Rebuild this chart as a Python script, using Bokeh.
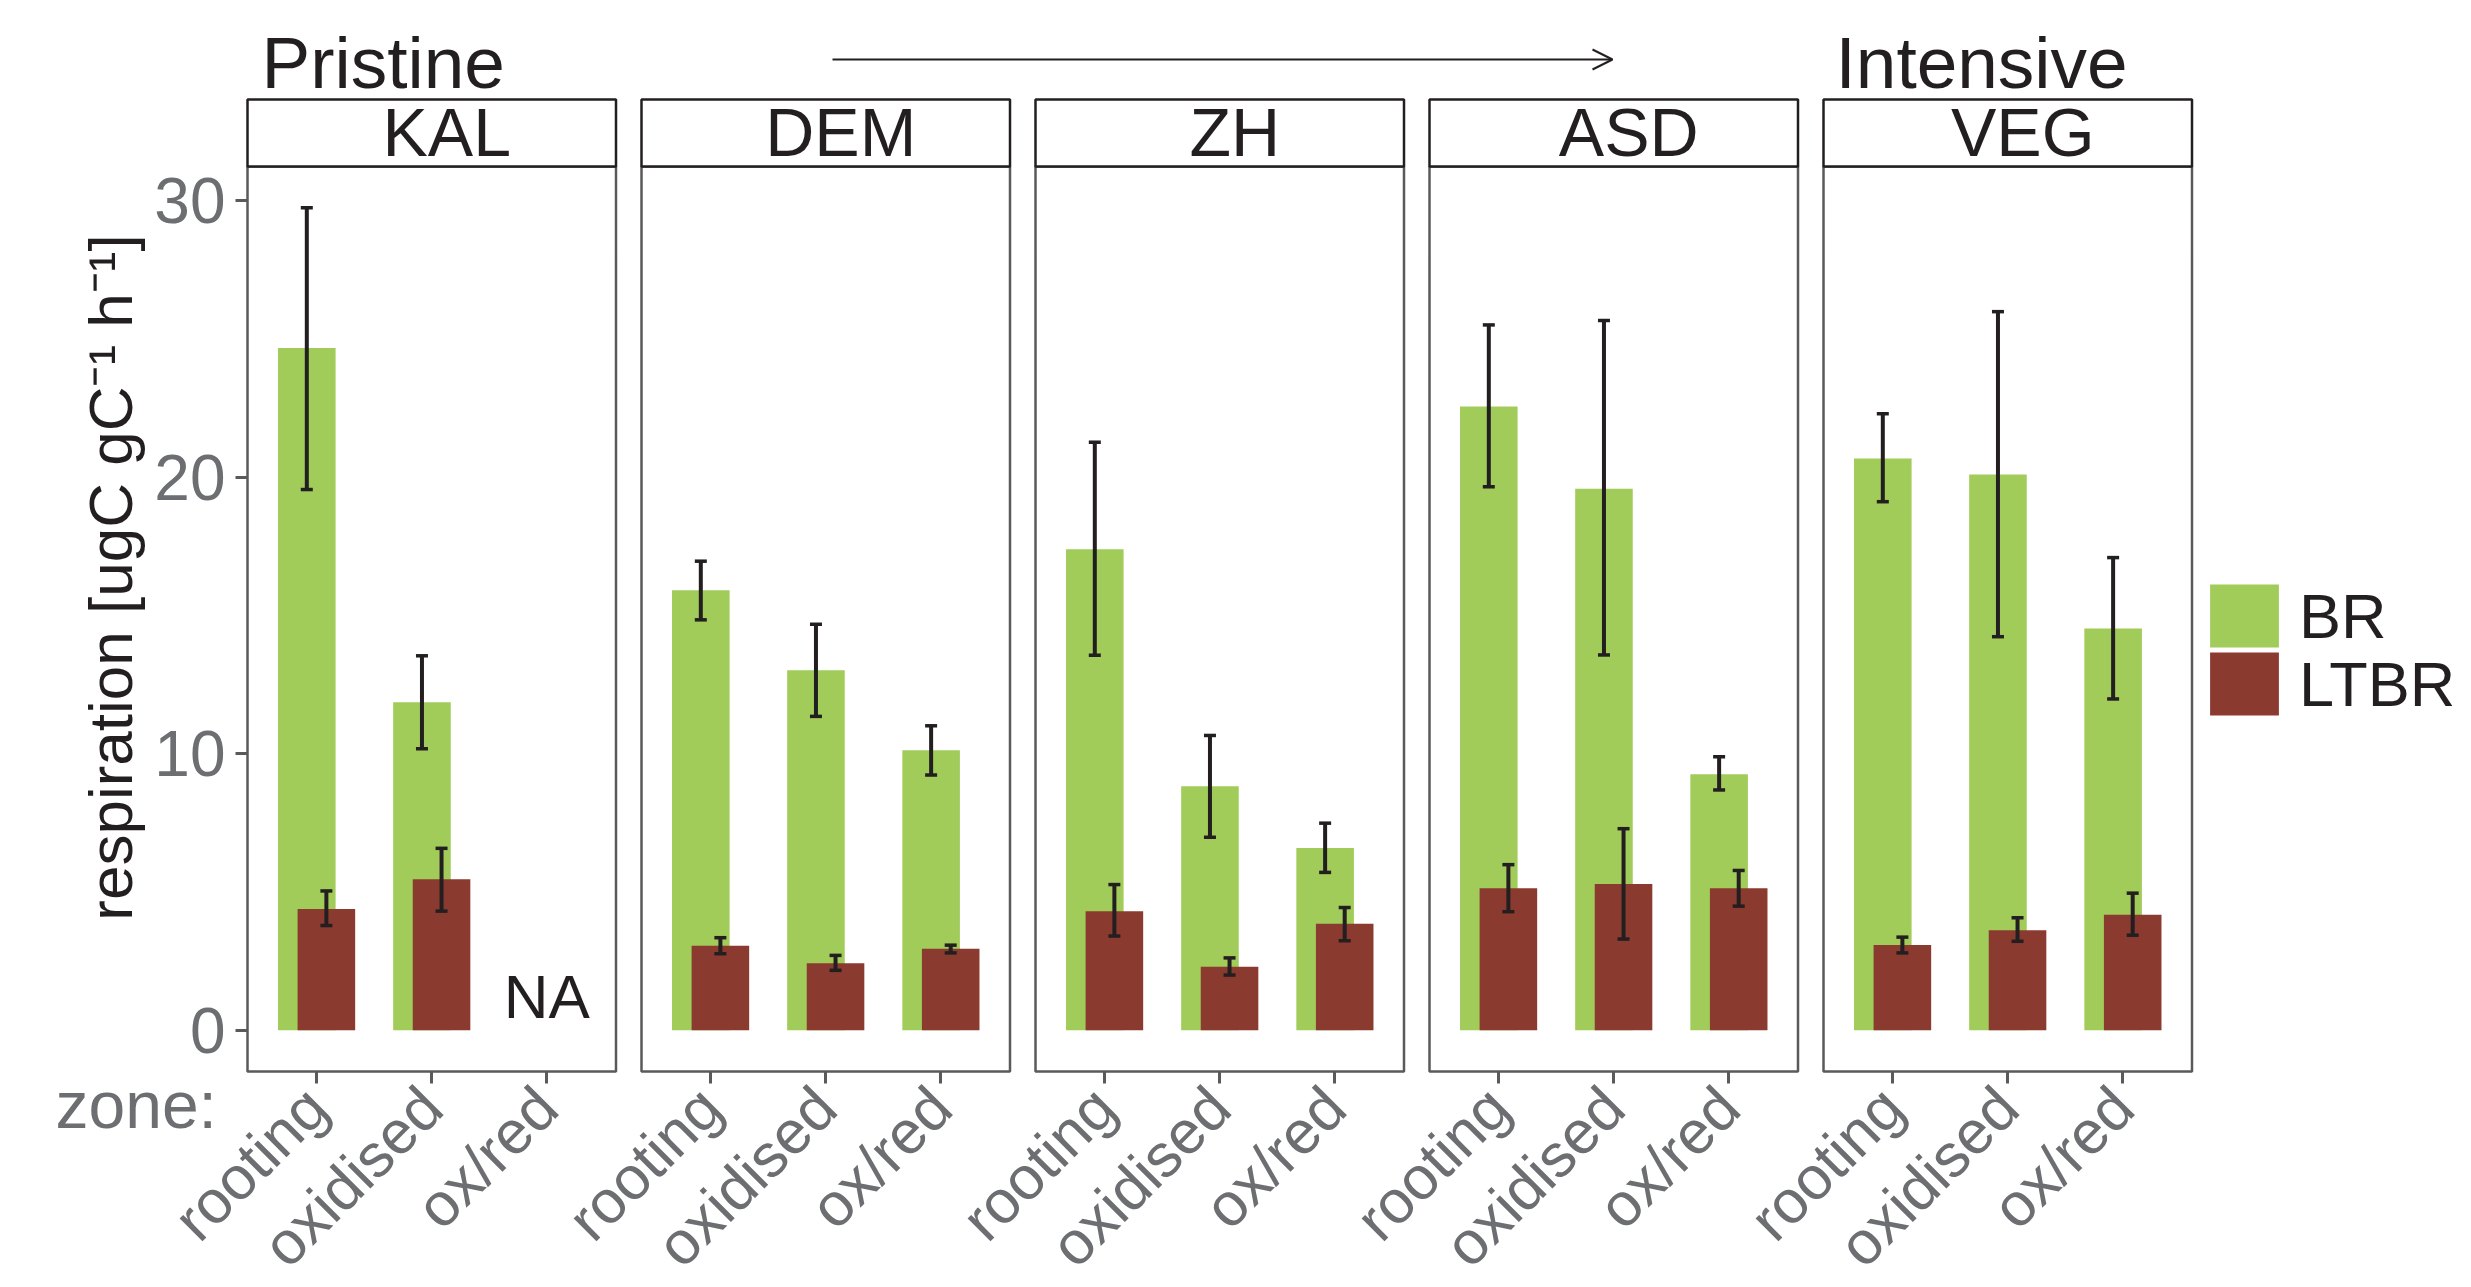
import math
from bokeh.plotting import figure
from bokeh.models import (ColumnDataSource, Whisker, TeeHead, Arrow, OpenHead,
                          FixedTicker, Legend, LegendItem, Range1d, LinearAxis,
                          CustomJSTickFormatter)
from bokeh.embed import file_html
from bokeh.resources import INLINE
from bokeh.core.properties import value

# ---------------- data ----------------
sites = ["KAL", "DEM", "ZH", "ASD", "VEG"]
zones = ["rooting", "oxidised", "ox/red"]
NA = float("nan")
# values listed site by site (KAL, DEM, ZH, ASD, VEG), zone by zone
br_mean = [24.67, 11.86, NA, 15.91, 13.02, 10.13, 17.39, 8.82, 6.59,
           22.55, 19.58, 9.26, 20.67, 20.09, 14.53]
br_lower = [19.55, 10.18, NA, 14.84, 11.35, 9.23, 13.56, 6.98, 5.71,
            19.65, 13.57, 8.69, 19.11, 14.23, 11.98]
br_upper = [29.74, 13.54, NA, 16.96, 14.68, 11.01, 21.26, 10.66, 7.49,
            25.50, 25.66, 9.89, 22.29, 25.98, 17.09]
ltbr_mean = [4.39, 5.46, NA, 3.06, 2.43, 2.95, 4.31, 2.30, 3.85,
             5.14, 5.29, 5.14, 3.09, 3.62, 4.18]
ltbr_lower = [3.79, 4.31, NA, 2.77, 2.17, 2.80, 3.41, 2.00, 3.24,
              4.29, 3.30, 4.49, 2.80, 3.22, 3.44]
ltbr_upper = [5.04, 6.58, NA, 3.35, 2.71, 3.08, 5.27, 2.62, 4.44,
              5.99, 7.29, 5.78, 3.37, 4.07, 4.96]
series_names = ["BR", "LTBR"]
y_ticks = [0, 10, 20, 30]
y_title = "respiration [ugC gC\u207b\u00b9 h\u207b\u00b9]"
gradient_left, gradient_right = "Pristine", "Intensive"
na_label = "NA"
zone_caption = "zone:"

# ---------------- style ----------------
GREEN = "#A1CC5A"
RED = "#8B3A2F"
INK = "#231F20"
GREY_TXT = "#6D6E71"
GREY_LINE = "#5A5A5A"
FONT_NAME = "Liberation Sans"
FONT = value(FONT_NAME)
BASE_SHIFT = 0.4   # empirical baseline correction (fraction of font size)

# ---------------- layout (canvas pixels) ----------------
W, H = 2471, 1287
PANEL_W, GAP = 368.5, 25.5
PANEL0_L = 247
STRIP_T, PANEL_T, PANEL_B = 99, 166, 1071
EXP = 0.6
nz = len(zones)
span = nz - 1 + 2 * EXP
ux = PANEL_W / span
pitch = span + GAP / ux
dmax = max(v for v in br_upper + ltbr_upper if v == v)
y0 = -0.05 * dmax
y1 = dmax + 0.05 * dmax
uy = (PANEL_B - PANEL_T) / (y1 - y0)
x_start = (1 - EXP) - PANEL0_L / ux
x_end = x_start + W / ux
y_start = y0 - (H - PANEL_B) / uy
y_end = y_start + H / uy


def X(cx):
    return x_start + cx / ux


def Y(cy):
    return y_start + (H - cy) / uy


def YB(baseline, size):
    return Y(baseline - BASE_SHIFT * size)


DODGE = 0.085
BAR_W = 0.5

p = figure(width=W, height=H, output_backend="svg", toolbar_location=None,
           x_range=Range1d(x_start, x_end), y_range=Range1d(y_start, y_end),
           x_axis_type=None, y_axis_type=None,
           min_border_left=0, min_border_right=0, min_border_top=0, min_border_bottom=0)
p.outline_line_color = None
p.xgrid.visible = False
p.ygrid.visible = False
p.background_fill_color = "white"

# panels & strips
pl = [i * pitch + 1 - EXP for i in range(len(sites))]
pr = [v + span for v in pl]
p.quad(left=pl, right=pr, bottom=[y0] * len(sites), top=[y1] * len(sites),
       fill_color=None, line_color=GREY_LINE, line_width=2.5)
strip_h = (PANEL_T - STRIP_T) / uy
p.quad(left=pl, right=pr, bottom=[y1] * len(sites), top=[y1 + strip_h] * len(sites),
       fill_color="white", line_color=INK, line_width=2.5)
p.text(x=[(a + b) / 2 + 15 / ux for a, b in zip(pl, pr)], y=[YB(159, 68)] * len(sites), text=sites,
       text_font=FONT, text_font_size="68px", text_color=INK,
       text_align="center", text_baseline="alphabetic")

# bars
centers, labels = [], []
bx, bt, bl, bu = [], [], [], []
lx, lt, ll, lu = [], [], [], []
na_x = []
for i in range(len(sites)):
    for j in range(nz):
        k = i * nz + j
        c = i * pitch + 1 + j
        centers.append(c)
        labels.append(zones[j])
        if br_mean[k] == br_mean[k]:
            bx.append(c - DODGE); bt.append(br_mean[k]); bl.append(br_lower[k]); bu.append(br_upper[k])
        if ltbr_mean[k] == ltbr_mean[k]:
            lx.append(c + DODGE); lt.append(ltbr_mean[k]); ll.append(ltbr_lower[k]); lu.append(ltbr_upper[k])
        if br_mean[k] != br_mean[k] and ltbr_mean[k] != ltbr_mean[k]:
            na_x.append(c)

src_b = ColumnDataSource(dict(x=bx, top=bt, lower=bl, upper=bu))
src_l = ColumnDataSource(dict(x=lx, top=lt, lower=ll, upper=lu))

r_b = p.vbar(x="x", top="top", bottom=0, width=BAR_W, source=src_b,
             fill_color=GREEN, line_color=None)
r_l = p.vbar(x="x", top="top", bottom=0, width=BAR_W, source=src_l,
             fill_color=RED, line_color=None)
for src in (src_b, src_l):
    wk = Whisker(base="x", lower="lower", upper="upper", source=src, dimension="height",
                 line_color=INK, line_width=4, level="overlay",
                 upper_head=TeeHead(size=12, line_color=INK, line_width=3.5),
                 lower_head=TeeHead(size=12, line_color=INK, line_width=3.5))
    p.add_layout(wk)

p.text(x=na_x, y=[YB(1021, 62)] * len(na_x), text=[na_label] * len(na_x),
       text_font=FONT, text_font_size="62px", text_color=INK,
       text_align="center", text_baseline="alphabetic")

# axes
xaxis = LinearAxis(fixed_location=y0, ticker=FixedTicker(ticks=centers),
                   formatter=CustomJSTickFormatter(args=dict(tick_pos=centers, tick_names=labels), code="""
for (let k = 0; k < tick_pos.length; k++) { if (Math.abs(tick_pos[k] - tick) < 1e-6) return tick_names[k]; }
return '';
"""))
xaxis.axis_line_color = None
xaxis.major_tick_line_color = GREY_LINE
xaxis.major_tick_line_width = 3
xaxis.major_tick_in = 0
xaxis.major_tick_out = 12
xaxis.minor_tick_line_color = None
xaxis.major_label_orientation = math.pi / 4
xaxis.major_label_standoff = 14
xaxis.major_label_text_font = FONT_NAME
xaxis.major_label_text_font_size = "61px"
xaxis.major_label_text_color = GREY_TXT
p.add_layout(xaxis, "below")

yaxis = LinearAxis(fixed_location=1 - EXP, ticker=FixedTicker(ticks=y_ticks))
yaxis.axis_line_color = None
yaxis.major_tick_line_color = GREY_LINE
yaxis.major_tick_line_width = 3
yaxis.major_tick_in = 0
yaxis.major_tick_out = 12
yaxis.minor_tick_line_color = None
yaxis.major_label_standoff = 10
yaxis.major_label_text_font = FONT_NAME
yaxis.major_label_text_font_size = "64px"
yaxis.major_label_text_color = GREY_TXT
p.add_layout(yaxis, "left")

# titles / annotations (all placed inside the full-canvas frame)
p.text(x=[X(110)], y=[Y(577)], text=[y_title], angle=math.pi / 2,
       text_font=FONT, text_font_size="62px", text_color=INK,
       text_align="center", text_baseline="middle")
p.text(x=[X(261), X(1835)], y=[YB(91, 73)] * 2, text=[gradient_left, gradient_right],
       text_font=FONT, text_font_size="73px", text_color=INK,
       text_align="left", text_baseline="alphabetic")
p.add_layout(Arrow(x_start=X(832), y_start=Y(59), x_end=X(1612), y_end=Y(59),
                   line_color=INK, line_width=2,
                   end=OpenHead(size=20, line_color=INK, line_width=2)))
p.text(x=[X(55)], y=[YB(1131, 66)], text=[zone_caption],
       text_font=FONT, text_font_size="66px", text_color=GREY_TXT,
       text_align="left", text_baseline="alphabetic")

# legend: one Legend per key so the two keys can sit closer than a text line
legend_bottoms = [632, 564]
for name, rend, bottom in zip(series_names, [r_b, r_l], legend_bottoms):
    lg = Legend(items=[LegendItem(label=name, renderers=[rend])],
                location=(2201, bottom), glyph_width=86, glyph_height=79,
                label_standoff=12, padding=0, margin=0, spacing=0,
                border_line_color=None, background_fill_alpha=0,
                label_text_font=FONT_NAME, label_text_font_size="63px",
                label_text_line_height=1.0, label_text_color=INK)
    p.add_layout(lg)

open("out.html", "w").write(file_html(p, INLINE))
